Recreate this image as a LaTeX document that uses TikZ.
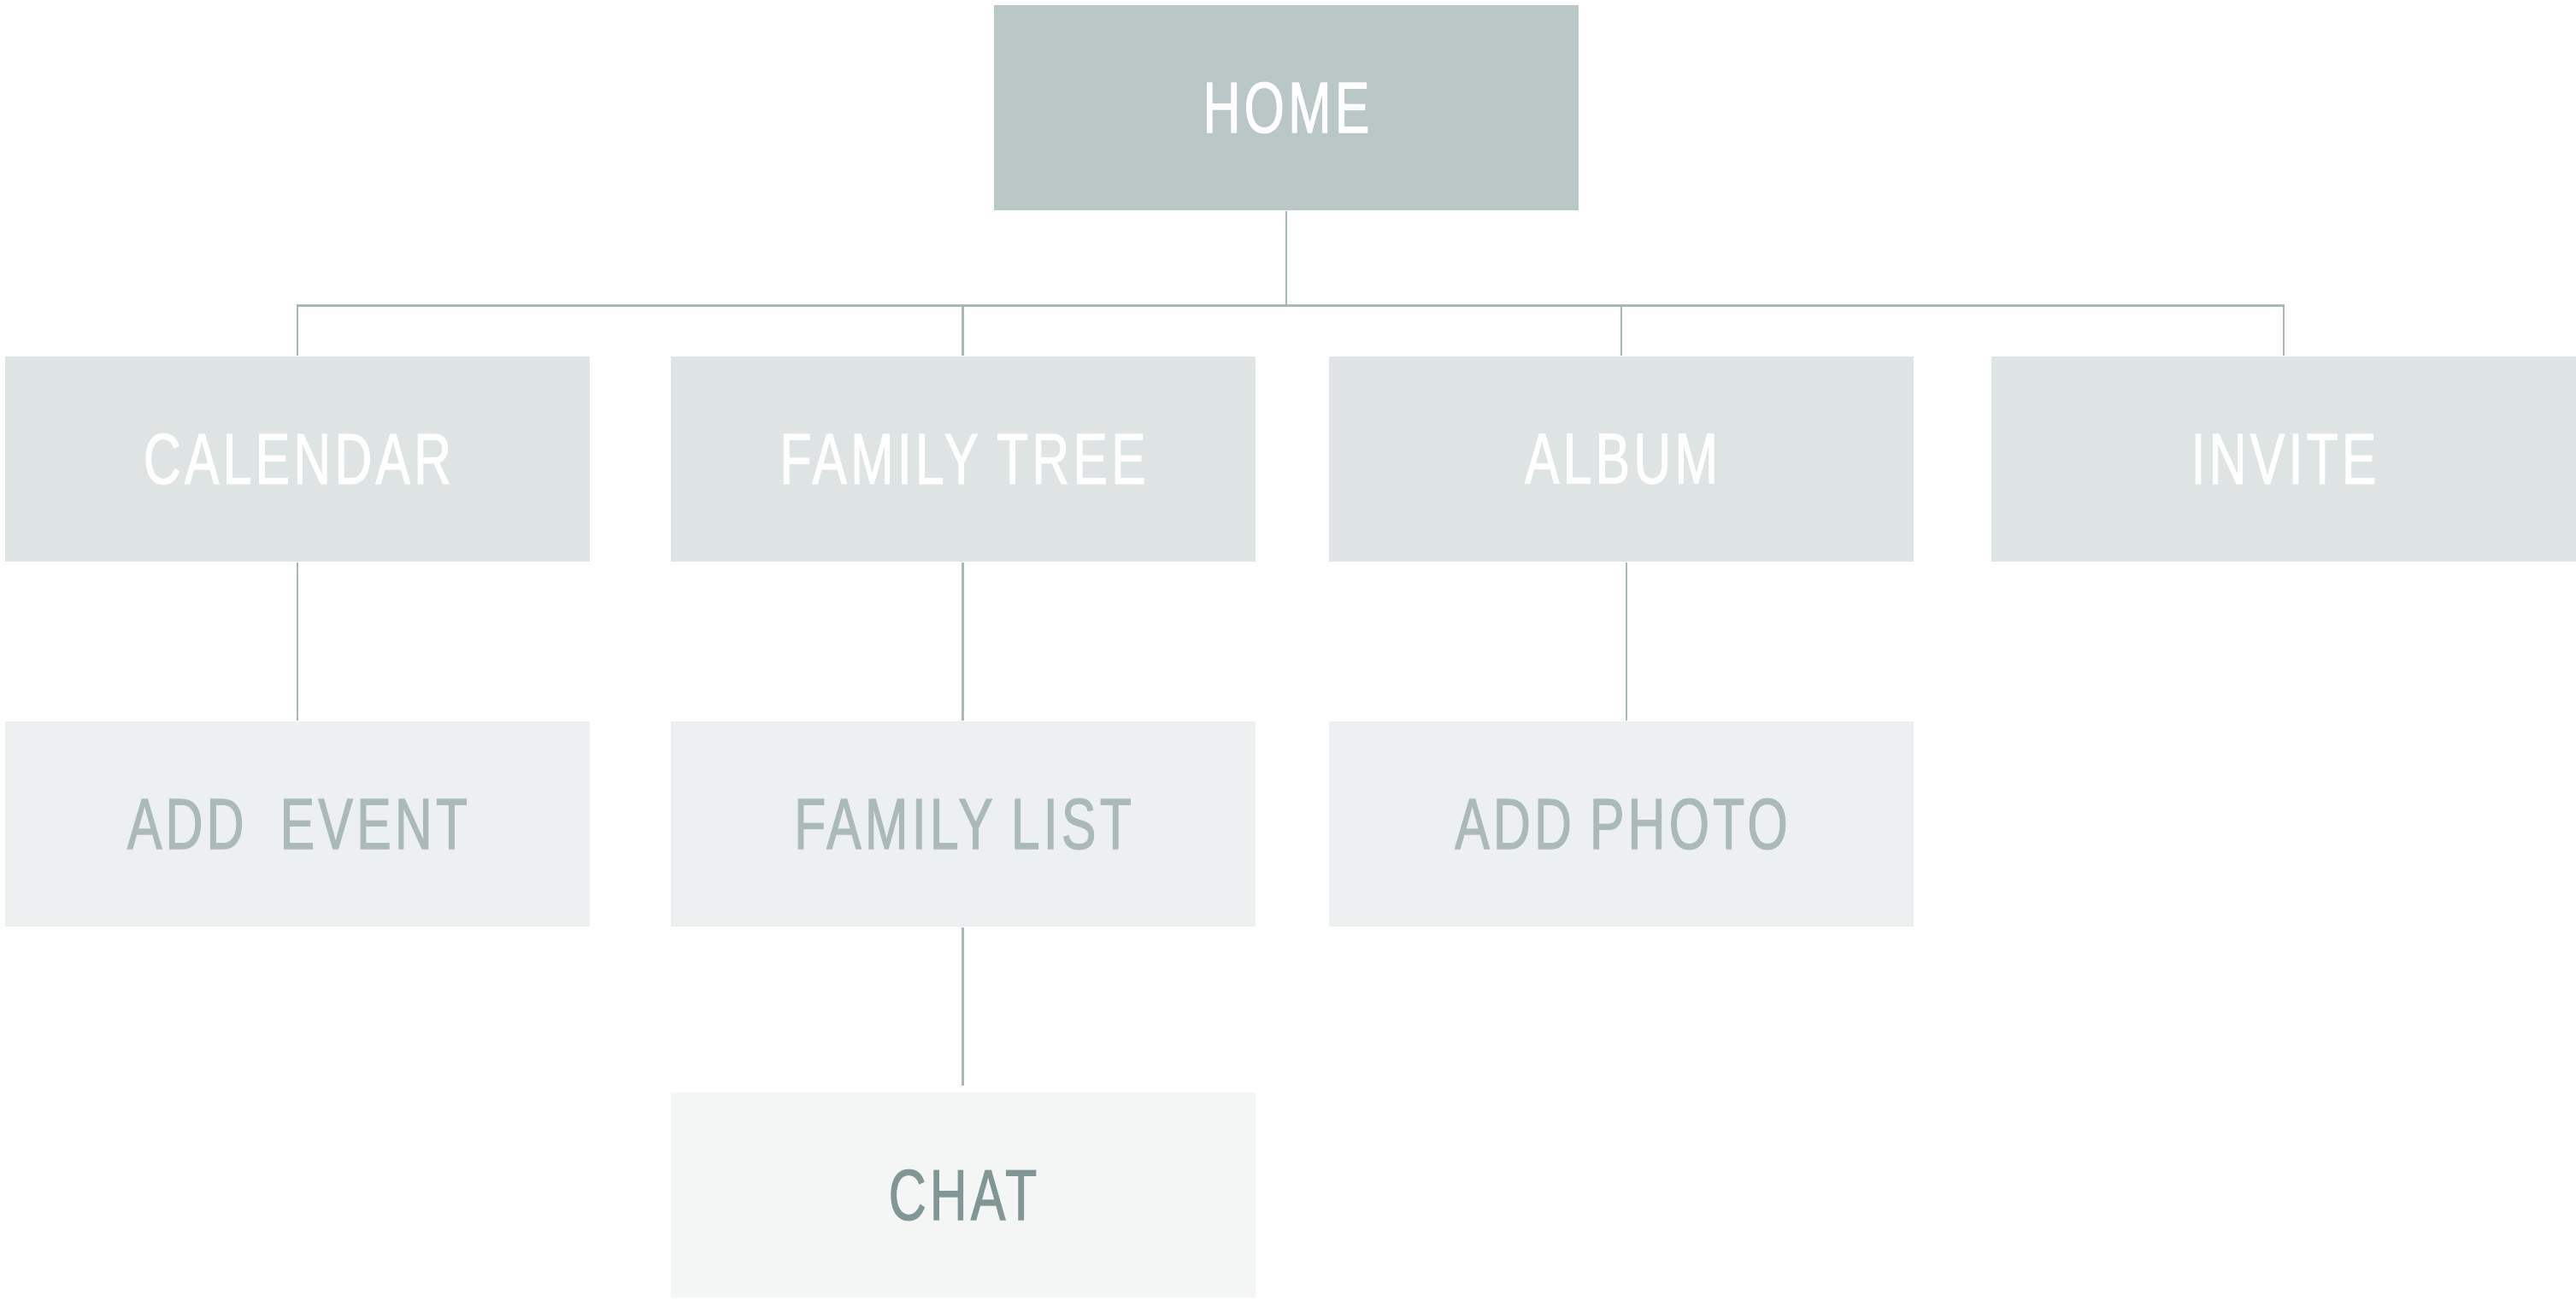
\documentclass[tikz,border=0pt]{standalone}
\usepackage{fontspec}
\setmainfont{Liberation Sans}[FakeStretch=0.72,LetterSpace=5,FakeBold=1.2]
\definecolor{homefill}{HTML}{B9C7C6}
\definecolor{lvlone}{HTML}{DEE4E3}
\definecolor{lvltwo}{HTML}{ECF0F0}
\definecolor{lvlthree}{HTML}{F4F6F5}
\definecolor{linkc}{HTML}{A7B8B6}
\definecolor{txtmid}{HTML}{A9BAB7}
\definecolor{txtdark}{HTML}{819796}
\tikzset{
  pagebox/.style={rectangle, minimum width=6.84cm, minimum height=2.40cm, inner sep=0pt, font=\fontsize{24}{28}\selectfont},
  homebox/.style={pagebox, fill=homefill, text=white},
  onebox/.style={pagebox, fill=lvlone, text=white},
  twobox/.style={pagebox, fill=lvltwo, text=txtmid},
  threebox/.style={pagebox, fill=lvlthree, text=txtdark},
  link/.style={draw=linkc, line width=0.022cm}
}
\begin{document}
\begin{tikzpicture}
\useasboundingbox[fill=white] (0,0) rectangle (30.14,-15.22);
\coordinate (bus) at (0,-3.575);
\node[homebox] (home) at (15.05,-1.26) {HOME};
\node[onebox] (cal) at (3.48,-5.37) {CALENDAR};
\node[onebox] (ftree) at (11.265,-5.37) {FAMILY TREE};
\node[onebox] (album) at (18.97,-5.37) {ALBUM};
\node[onebox] (invite) at (26.72,-5.37) {INVITE};
\node[twobox] (addev) at (3.48,-9.64) {ADD\ \ EVENT};
\node[twobox] (flist) at (11.265,-9.64) {FAMILY LIST};
\node[twobox] (addph) at (18.97,-9.64) {ADD PHOTO};
\node[threebox] (chat) at (11.265,-13.98) {CHAT};
\draw[link] (home.south) -- (home.south |- bus);
\draw[link] (cal.north) -- (cal.north |- bus) -- (invite.north |- bus) -- (invite.north);
\draw[link] (ftree.north) -- (ftree.north |- bus);
\draw[link] (album.north) -- (album.north |- bus);
\draw[link] (cal.south) -- (addev.north);
\draw[link] (ftree.south) -- (flist.north);
\draw[link] ([xshift=0.06cm]album.south) -- ([xshift=0.06cm]addph.north);
\draw[link] (flist.south) -- ([yshift=0.07cm]chat.north);
\end{tikzpicture}
\end{document}
